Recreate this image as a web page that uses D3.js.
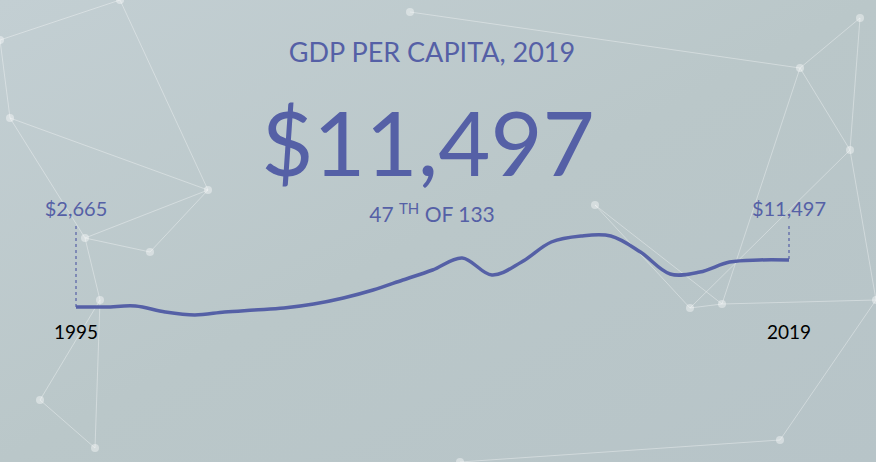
<!DOCTYPE html><html><head><meta charset="utf-8">
<script src="https://cdn.jsdelivr.net/npm/d3@7"></script>
<style>body{margin:0;}svg{display:block;font-family:Lato,"Open Sans",sans-serif;}</style></head><body>
<svg width="876" height="462"></svg>
<script>
const years=[1995,1996,1997,1998,1999,2000,2001,2002,2003,2004,2005,2006,2007,2008,2009,2010,2011,2012,2013,2014,2015,2016,2017,2018,2019];
const gdp=[2665,2665,2850,1725,1160,1725,2100,2480,3230,4360,5860,7740,9620,11880,8680,11120,14880,16010,16010,13000,8870,9240,11120,11500,11497];
const svg=d3.select("svg");
const defs=svg.append("defs");
const g=defs.append("linearGradient").attr("id","bg").attr("x1",0).attr("y1",0).attr("x2",1).attr("y2",1);
g.append("stop").attr("offset",0).attr("stop-color","#c3cfd3");
g.append("stop").attr("offset",0.5).attr("stop-color","#bac7c9");
g.append("stop").attr("offset",1).attr("stop-color","#b7c4c8");
svg.append("rect").attr("width",876).attr("height",462).attr("fill","url(#bg)");
const nodes=[[10,118],[208,190],[85,238],[100,300],[95,448],[0,40],[120,0],[410,12],[595,205],[690,308],[722,304],[850,150],[800,68],[860,18],[876,300],[780,440],[460,462],[40,400],[150,252]];
const links=[[0,1],[0,2],[1,2],[2,3],[3,4],[0,5],[5,6],[6,1],[2,18],[18,1],[3,17],[17,4],[8,9],[8,10],[9,10],[11,12],[12,13],[11,14],[10,14],[12,10],[11,9],[14,15],[15,16],[7,12],[13,11]];
const deco=svg.append("g").attr("stroke","#fff").attr("stroke-opacity",0.35);
links.forEach(([a,b])=>deco.append("line").attr("x1",nodes[a][0]).attr("y1",nodes[a][1]).attr("x2",nodes[b][0]).attr("y2",nodes[b][1]));
svg.append("g").selectAll("circle").data(nodes).join("circle").attr("cx",d=>d[0]).attr("cy",d=>d[1]).attr("r",4).attr("fill","#fff").attr("opacity",0.4);

const col="#5560a6";
const x=d3.scaleLinear().domain([1995,2019]).range([76,789]);
const y=d3.scaleLinear().domain([2665,11497]).range([307,260]);
svg.append("text").attr("x",432).attr("y",62).attr("text-anchor","middle").attr("fill",col).attr("font-size",27).text("GDP PER CAPITA, 2019");
svg.append("text").attr("x",428).attr("y",176).attr("text-anchor","middle").attr("fill",col).attr("font-size",90).text("$11,497");
const r=svg.append("text").attr("x",432).attr("y",222).attr("text-anchor","middle").attr("fill",col).attr("font-size",21);
r.append("tspan").text("47 ");r.append("tspan").attr("dy",-8).attr("font-size",15).text("TH");r.append("tspan").attr("dy",8).text(" OF 133");
[[0,"$2,665"],[24,"$11,497"]].forEach(([i,t])=>{
 svg.append("line").attr("x1",x(years[i])).attr("x2",x(years[i])).attr("y1",226).attr("y2",y(gdp[i])).attr("stroke",col).attr("stroke-dasharray","3,3").attr("stroke-width",1.2);
 svg.append("text").attr("x",x(years[i])).attr("y",216).attr("text-anchor","middle").attr("fill",col).attr("font-size",20).text(t);
 svg.append("text").attr("x",x(years[i])).attr("y",339).attr("text-anchor","middle").attr("fill","#000").attr("font-size",19).text(years[i]);
});
svg.append("path").datum(years.map((yr,i)=>[yr,gdp[i]])).attr("fill","none").attr("stroke",col).attr("stroke-width",3.5)
 .attr("d",d3.line().x(d=>x(d[0])).y(d=>y(d[1])).curve(d3.curveCatmullRom.alpha(0.5)));
</script></body></html>
